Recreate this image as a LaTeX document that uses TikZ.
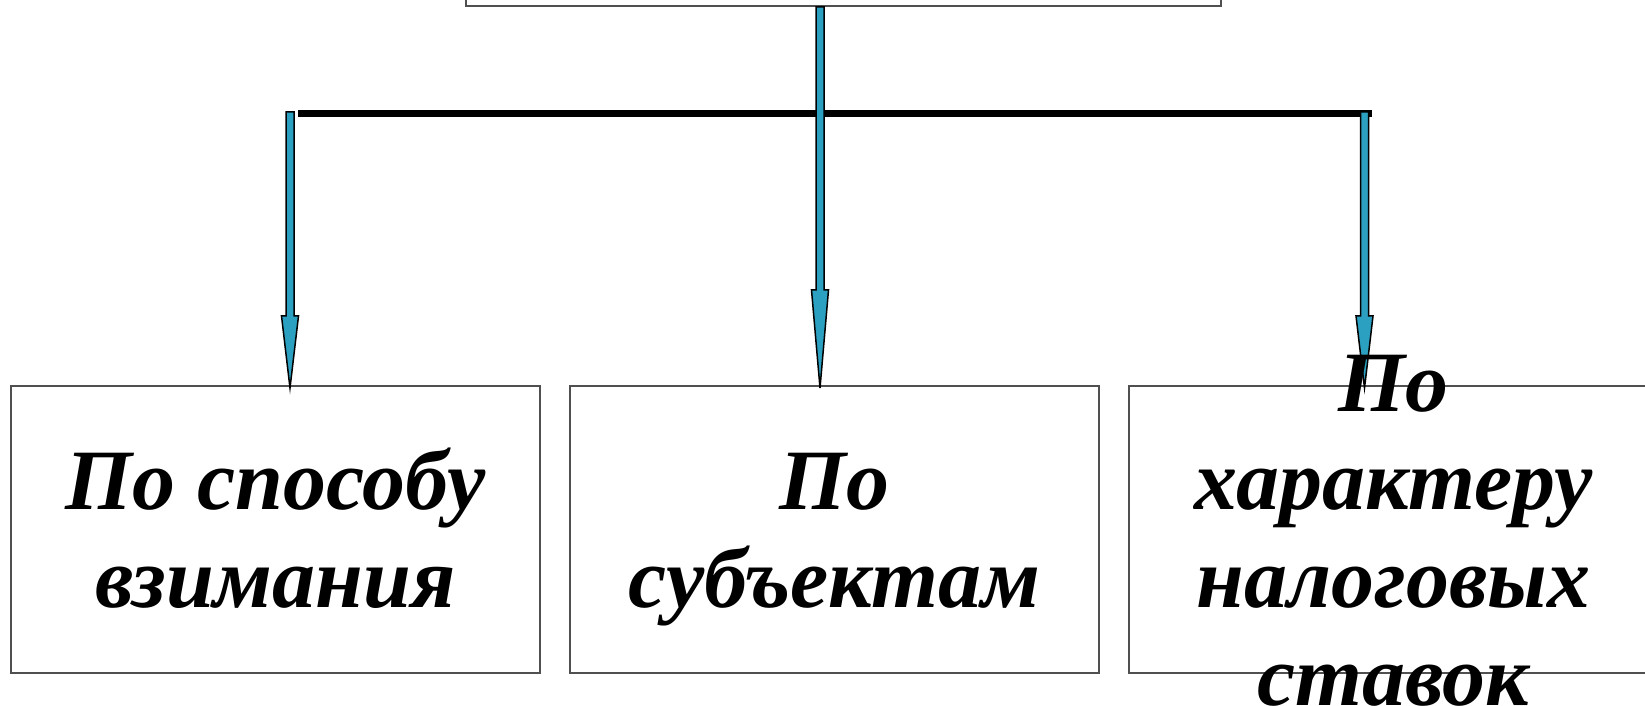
\documentclass[tikz,border=0pt]{standalone}
\usepackage{fontspec}
\setmainfont{Liberation Serif}
\usetikzlibrary{calc}
\definecolor{arrowteal}{RGB}{44,160,192}
\definecolor{boxgrey}{RGB}{80,80,80}
\newcommand\ls{\rule[-20.5pt]{0pt}{98pt}}
\newcommand\blockarrow[3]{%
  \path[blockarrow] let \p1=(#1), \p2=(#2) in
    (\x1-4pt,\y1) -- (\x1+4pt,\y1) -- (\x1+4pt,\y2+#3) -- (\x1+8.5pt,\y2+#3)
    -- (\x1,\y2) -- (\x1-8.5pt,\y2+#3) -- (\x1-4pt,\y2+#3) -- cycle;}
\begin{document}
\begin{tikzpicture}[x=1pt,y=1pt,
  box/.style={draw=boxgrey, line width=2pt, fill=white, minimum width=529pt, minimum height=287pt, inner sep=0pt},
  txt/.style={font=\fontsize{86}{98}\selectfont\bfseries\itshape, align=center, inner sep=0pt},
  blockarrow/.style={fill=arrowteal, draw=black, line width=1.5pt, line join=miter},
  bar/.style={line width=7pt, draw=black}]
\useasboundingbox (0,0) rectangle (1645,705);
\clip (0,0) rectangle (1645,705);
\fill[white] (0,0) rectangle (1645,705);
% boxes
\node[box, minimum width=755pt, minimum height=120pt, anchor=south west] (top) at (465,698) {};
\node[box] (b1) at (275.5,175.5) {};
\node[box] (b2) at (834.5,175.5) {};
\node[box] (b3) at (1393.5,175.5) {};
% bar
\coordinate (barL) at (298,591);
\coordinate (barR) at (1372,591);
\draw[bar] (barL) -- (barR);
% arrow start points
\coordinate (aC) at ($(top.south west)+(355,0)$);
\coordinate (aL) at (290,593);
\coordinate (aR) at (1364.5,593);
% arrows
\blockarrow{aC}{$(b2.north)+(0,-3)$}{98}
\blockarrow{aL}{$(b1.north)+(0,-3)$}{72}
\blockarrow{aR}{$(b3.north)+(0,-3)$}{72}
% texts
\node[txt] (t1) at (b1.center) {\ls По способу\\\ls взимания};
\node[txt] (t2) at (b2.center) {\ls По\\\ls субъектам};
\node[txt] (t3) at (b3.center) {\ls По\\\ls характеру\\\ls налоговых\\\ls ставок};
\end{tikzpicture}
\end{document}
